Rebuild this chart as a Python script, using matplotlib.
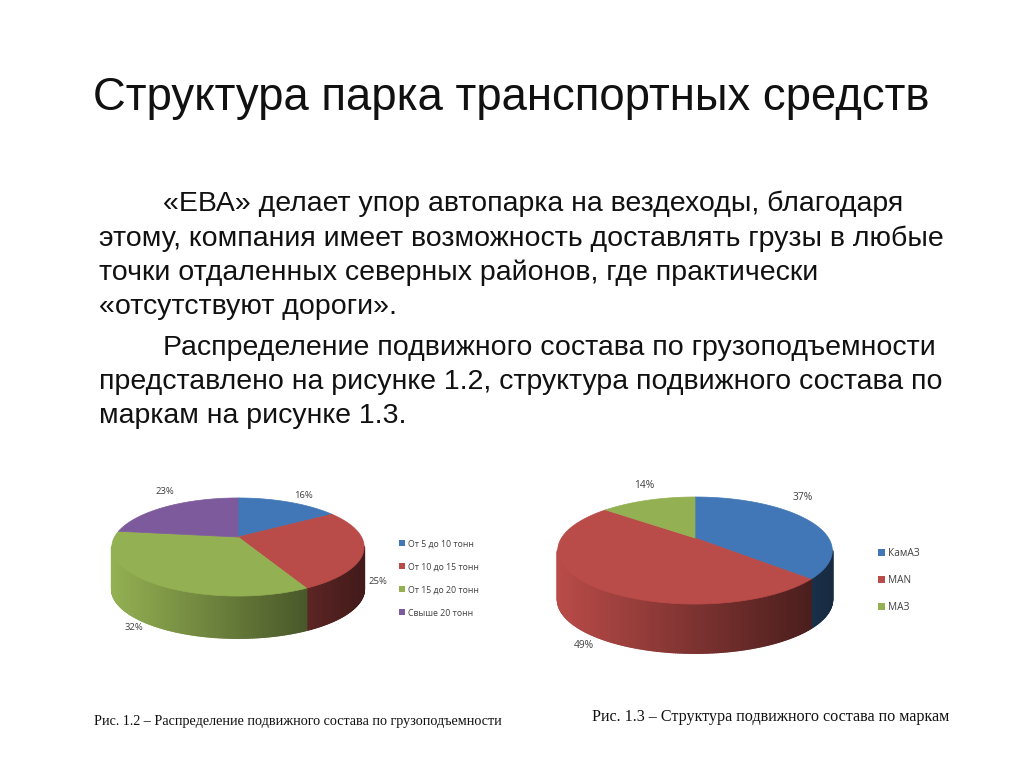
import numpy as np
import matplotlib
matplotlib.use('Agg')
import matplotlib.pyplot as plt
from matplotlib.collections import PolyCollection
from matplotlib.patches import Polygon, Rectangle

title = 'Структура парка транспортных средств'
body_lines = [
    '«ЕВА» делает упор автопарка на вездеходы, благодаря',
    'этому, компания имеет возможность доставлять грузы в любые',
    'точки отдаленных северных районов, где практически',
    '«отсутствуют дороги».',
    'Распределение подвижного состава по грузоподъемности',
    'представлено на рисунке 1.2, структура подвижного состава по',
    'маркам на рисунке 1.3.',
]

# wedge sizes; the printed labels of fig 1.2 only add up to 96%
tonnage_names = ['От 5 до 10 тонн', 'От 10 до 15 тонн', 'От 15 до 20 тонн', 'Свыше 20 тонн']
tonnage_shares = [16, 26.5, 34.5, 23]
tonnage_labels = ['16%', '25%', '32%', '23%']

brand_names = ['КамАЗ', 'MAN', 'МАЗ']
brand_shares = [37, 49, 14]
brand_labels = ['37%', '49%', '14%']

caption_left = 'Рис. 1.2 – Распределение подвижного состава по грузоподъемности'
caption_right = 'Рис. 1.3 – Структура подвижного состава по маркам'

blue = '#4177b6'
red = '#b94b48'
green = '#93b052'
purple = '#7d5a9c'
text_grey = '#404040'


def project(theta, apex, radius, squash, persp):
    # clockwise from 12 o'clock, circle seen in perspective
    s = 1 / (1 + persp * np.cos(theta))
    x = apex[0] + radius * np.sin(theta) * s
    y = apex[1] - squash * np.cos(theta) * s
    return x, y


def pie3d(ax, shares, colors, apex, radius, squash, persp, depth):
    edges = 2 * np.pi * np.cumsum([0] + list(shares)) / sum(shares)
    # full outline first, used to scale the wall shading
    tt = np.linspace(0, 2 * np.pi, 720)
    ox, oy = project(tt, apex, radius, squash, persp)
    xmin, xmax = ox.min(), ox.max()

    polys = []
    cols = []
    for i in range(len(shares)):
        th = np.linspace(edges[i], edges[i + 1], max(int((edges[i + 1] - edges[i]) * 80), 4))
        x, y = project(th, apex, radius, squash, persp)
        base = np.array(matplotlib.colors.to_rgb(colors[i]))
        for j in range(len(th) - 1):
            if x[j + 1] >= x[j]:  # back side, hidden
                continue
            frac = (0.5 * (x[j] + x[j + 1]) - xmin) / (xmax - xmin)
            polys.append([(x[j], y[j]), (x[j + 1], y[j + 1]),
                          (x[j + 1], y[j + 1] + depth), (x[j], y[j] + depth)])
            cols.append(base * (1 - 0.65 * frac))
    ax.add_collection(PolyCollection(polys, facecolors=cols, edgecolors=cols, linewidths=1.3))

    for i in range(len(shares)):
        th = np.linspace(edges[i], edges[i + 1], 200)
        x, y = project(th, apex, radius, squash, persp)
        pts = np.column_stack((np.r_[apex[0], x], np.r_[apex[1], y]))
        ax.add_patch(Polygon(pts, closed=True, facecolor=colors[i], edgecolor=colors[i], linewidth=0.5))


def legend_block(ax, names, colors, x, ys, size, fontsize):
    for name, c, y in zip(names, colors, ys):
        ax.add_patch(Rectangle((x, y - size / 2), size, size, facecolor=c, edgecolor='none'))
        ax.text(x + size + 3, y, name, fontsize=fontsize, color=text_grey, va='center_baseline', ha='left',
                family='Open Sans')


fig = plt.figure(figsize=(10.24, 7.67), dpi=100)
ax = fig.add_axes([0, 0, 1, 1])
ax.set_xlim(0, 1024)
ax.set_ylim(767, 0)
ax.axis('off')

ax.text(93, 110, title, fontsize=32.8, color='#111111', va='baseline', ha='left', family='Liberation Sans')

line_x = [163, 99, 99, 99, 163, 99, 99]
line_y = [211, 245.5, 280, 314.5, 355, 389, 423]
for s, x, y in zip(body_lines, line_x, line_y):
    ax.text(x, y, s, fontsize=20.5, color='#111111', va='baseline', ha='left', family='Liberation Sans')

# fig 1.2
pie3d(ax, tonnage_shares, [blue, red, green, purple], (238, 537), 123.5, 47, 0.204, 42)
for s, x, y in zip(tonnage_labels, [303, 378, 134, 165], [495, 581, 627, 491]):
    ax.text(x, y, s, fontsize=6.8, color=text_grey, ha='center', va='center', family='Open Sans')
legend_block(ax, tonnage_names, [blue, red, green, purple], 399, [543, 566, 589, 612], 6, 6.3)

# fig 1.3
pie3d(ax, brand_shares, [blue, red, green], (695, 538), 133.5, 50.6, 0.234, 49)
for s, x, y in zip(brand_labels, [803, 584, 644], [498, 645, 485]):
    ax.text(x, y, s, fontsize=7.4, color=text_grey, ha='center', va='center', family='Open Sans')
legend_block(ax, brand_names, [blue, red, green], 878, [552, 579, 606], 7, 7.3)

ax.text(94, 722, caption_left, fontsize=10.2, color='#111111', ha='left', va='center', family='Liberation Serif')
ax.text(592, 717, caption_right, fontsize=11.6, color='#111111', ha='left', va='center', family='Liberation Serif')

fig.savefig('out.png', dpi=100, facecolor='white')
